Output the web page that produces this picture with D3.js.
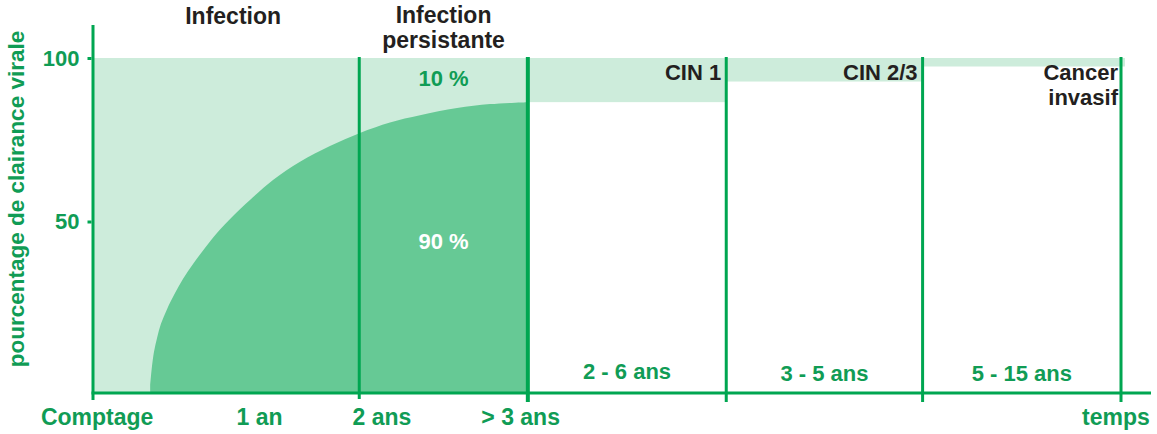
<!DOCTYPE html>
<html>
<head>
<meta charset="utf-8">
<script src="https://cdn.jsdelivr.net/npm/d3@7"></script>
<style>
  html, body { margin: 0; padding: 0; background: #ffffff; }
  svg { display: block; }
  text { font-family: "Liberation Sans", Arial, Helvetica, sans-serif; font-weight: bold; }
</style>
</head>
<body>
<svg id="chart" width="1157" height="434"></svg>
<script>
// ---------- data ----------
const stageNames     = ["Infection", "Infection persistante", "CIN 1", "CIN 2/3", "Cancer invasif"];
const stageEdges     = [0, 25.9, 42.3, 61.6, 80.7, 100];          // timeline position (schematic units)
const stageDurations = ["", "", "2 - 6 ans", "3 - 5 ans", "5 - 15 ans"];
const lesionFloor    = [null, null, 86.5, 92.8, 97.4];            // bottom of the residual band (%)
const clearanceX     = [5.56, 5.74, 5.93, 6.23, 6.61, 7.20, 7.98, 8.75, 9.73, 10.89, 12.06, 13.62, 15.27,
                        17.51, 20.14, 23.05, 25.97, 28.89, 31.81, 35.41, 38.62, 42.22];
const clearanceY     = [0, 5.8, 10.1, 14.4, 18.7, 23.2, 28.1, 32.4, 37.0, 41.9, 46.5, 51.7, 56.6,
                        62.7, 68.3, 73.1, 77.1, 80.3, 82.5, 84.7, 85.9, 86.5];
const timeLabels     = ["Comptage", "1 an", "2 ans", "> 3 ans", "temps"];
const timeLabelPos   = [0.4, 16.2, 28.1, 41.6, 99.5];
const yTicks         = [50, 100];
const shareLabels    = ["10 %", "90 %"];
const shareValues    = [91.4, 41.5];
const yTitle         = "pourcentage de clairance virale";

// ---------- style ----------
const GREEN = "#00a651", TEXTGREEN = "#109c55", DARK = "#231f20";
const LIGHT = "#cdecdb", MID = "#66c995";

const svg = d3.select("#chart");
const x = d3.scaleLinear().domain([0, 100]).range([93, 1121]);
const y = d3.scaleLinear().domain([0, 100]).range([385, 58]);
const axisY = 393;

// light background for the infection phases
svg.append("rect")
  .attr("x", x(stageEdges[0])).attr("y", y(100))
  .attr("width", x(stageEdges[2]) - x(stageEdges[0]))
  .attr("height", axisY - y(100))
  .attr("fill", LIGHT);

// residual lesion bands
stageNames.forEach((s, i) => {
  if (lesionFloor[i] == null) return;
  svg.append("rect")
    .attr("x", x(stageEdges[i])).attr("y", y(100))
    .attr("width", x(stageEdges[i + 1]) - x(stageEdges[i]) + (i === stageNames.length - 1 ? 4 : 0))
    .attr("height", y(lesionFloor[i]) - y(100))
    .attr("fill", LIGHT);
});

// clearance area
const pts = clearanceX.map((d, i) => [d, clearanceY[i]]);
svg.append("path")
  .datum(pts)
  .attr("fill", MID)
  .attr("d", d3.area().x(d => x(d[0])).y0(axisY).y1(d => y(d[1])).curve(d3.curveCatmullRom.alpha(0.5)));

// vertical stage separators
stageEdges.slice(1).forEach((e, i) => {
  svg.append("line")
    .attr("x1", x(e)).attr("x2", x(e))
    .attr("y1", y(100) - 1).attr("y2", axisY + (i === 0 ? 6 : 9))
    .attr("stroke", GREEN).attr("stroke-width", i === 1 ? 4 : 3);
});

// axes lines
svg.append("line").attr("x1", x(0)).attr("x2", x(0)).attr("y1", 25).attr("y2", 400)
  .attr("stroke", GREEN).attr("stroke-width", 3);
svg.append("line").attr("x1", x(0) - 1.5).attr("x2", 1151).attr("y1", axisY).attr("y2", axisY)
  .attr("stroke", GREEN).attr("stroke-width", 3);

// y axis ticks & labels
const yAxis = svg.append("g").attr("transform", `translate(${x(0) - 1.5},0)`)
  .call(d3.axisLeft(y).tickValues(yTicks).tickSize(4).tickPadding(8).tickFormat(d3.format("d")));
yAxis.select(".domain").remove();
yAxis.selectAll(".tick line").attr("stroke", GREEN).attr("stroke-width", 3);
yAxis.selectAll(".tick text").attr("fill", TEXTGREEN).style("font-size", "22px")
  .style("font-family", "'Liberation Sans', Arial, sans-serif").style("font-weight", "bold");

// y title
svg.append("text")
  .attr("transform", `translate(24,199) rotate(-90)`)
  .attr("text-anchor", "middle").attr("fill", TEXTGREEN).style("font-size", "22.5px")
  .text(yTitle);

// x labels
timeLabels.forEach((t, i) => {
  svg.append("text")
    .attr("x", x(timeLabelPos[i])).attr("y", 425)
    .attr("text-anchor", "middle").attr("fill", TEXTGREEN).style("font-size", "23px")
    .text(t);
});

// stage titles
const mid = i => (stageEdges[i] + stageEdges[i + 1]) / 2;
svg.append("text").attr("x", x(mid(0)) + 7).attr("y", 24).attr("text-anchor", "middle")
  .attr("fill", DARK).style("font-size", "23px").text(stageNames[0]);
const persist = stageNames[1].split(" ");
persist.forEach((w, k) => {
  svg.append("text").attr("x", x(mid(1))).attr("y", 23 + k * 25).attr("text-anchor", "middle")
    .attr("fill", DARK).style("font-size", "23px").text(w);
});
[2, 3].forEach(i => {
  svg.append("text").attr("x", x(stageEdges[i + 1]) - 5).attr("y", 80).attr("text-anchor", "end")
    .attr("fill", DARK).style("font-size", "22px").text(stageNames[i]);
});
stageNames[4].split(" ").forEach((w, k) => {
  svg.append("text").attr("x", x(stageEdges[5]) - 3).attr("y", 80 + k * 25).attr("text-anchor", "end")
    .attr("fill", DARK).style("font-size", "22px").text(w);
});

// durations
stageDurations.forEach((t, i) => {
  if (!t) return;
  svg.append("text").attr("x", x(mid(i))).attr("y", i === 2 ? 379 : 381).attr("text-anchor", "middle")
    .attr("fill", TEXTGREEN).style("font-size", "22px").text(t);
});

// shares
svg.append("text").attr("x", x(mid(1))).attr("y", y(shareValues[0])).attr("text-anchor", "middle")
  .attr("fill", TEXTGREEN).style("font-size", "22px").text(shareLabels[0]);
svg.append("text").attr("x", x(mid(1))).attr("y", y(shareValues[1])).attr("text-anchor", "middle")
  .attr("fill", "#ffffff").style("font-size", "22px").text(shareLabels[1]);
</script>
</body>
</html>
